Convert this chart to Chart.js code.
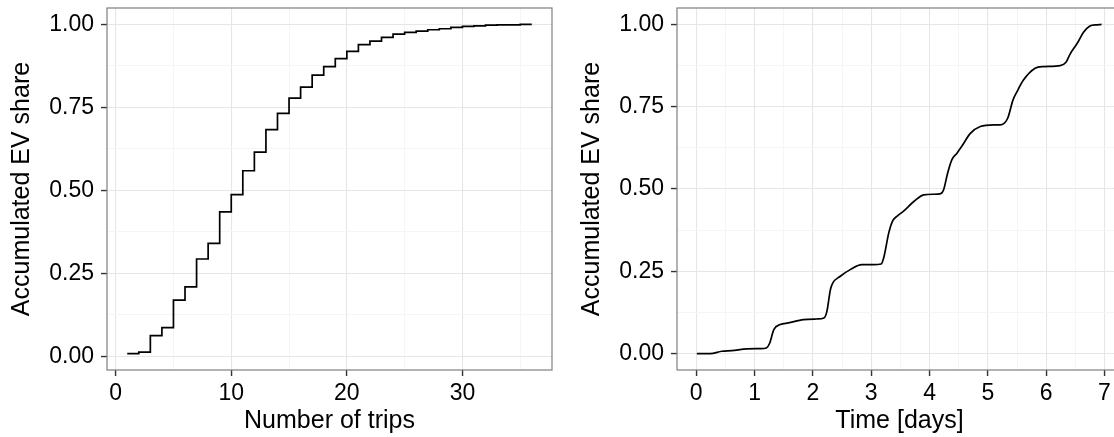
<!DOCTYPE html>
<html>
<head>
<meta charset="utf-8">
<script src="https://cdn.jsdelivr.net/npm/chart.js@4"></script>
<style>
  html, body { margin: 0; padding: 0; background: #fff; overflow: hidden; }
  #wrap { position: relative; width: 1114px; height: 437px; overflow: hidden; }
  canvas { position: absolute; top: 0; }
  #left { left: 0; }
  #right { left: 570px; }
</style>
</head>
<body>
<div id="wrap">
  <canvas id="left" width="560" height="437"></canvas>
  <canvas id="right" width="590" height="437"></canvas>
</div>
<script>
// left panel: ECDF of trips per EV
const trips = [1, 2, 3, 4, 5, 6, 7, 8, 9, 10, 11, 12, 13, 14, 15, 16, 17, 18,
  19, 20, 21, 22, 23, 24, 25, 26, 27, 28, 29, 30, 31, 32, 33, 34, 35, 36];
const tripShare = [0.008, 0.012, 0.062, 0.086, 0.169, 0.209, 0.293, 0.340, 0.435, 0.487,
  0.559, 0.615, 0.683, 0.732, 0.778, 0.811, 0.847, 0.873, 0.897, 0.919,
  0.939, 0.950, 0.961, 0.971, 0.976, 0.980, 0.984, 0.987, 0.991, 0.994,
  0.996, 0.998, 0.999, 0.999, 1.000, 1.000];

// right panel: accumulated share over the week
const days = [0.01, 0.24, 0.44, 0.61, 0.87, 1.10, 1.20, 1.26, 1.33, 1.44, 1.58, 1.84,
  2.07, 2.19, 2.24, 2.30, 2.34, 2.47, 2.64, 2.84, 3.04, 3.17, 3.22, 3.30, 3.37,
  3.44, 3.55, 3.73, 3.90, 4.07, 4.18, 4.24, 4.31, 4.38, 4.47, 4.55, 4.70, 4.87,
  5.10, 5.21, 5.34, 5.43, 5.50, 5.61, 5.81, 5.95, 6.24, 6.34, 6.41, 6.53, 6.64,
  6.75, 6.87, 6.95];
const dayShare = [0, 0, 0.007, 0.009, 0.014, 0.015, 0.017, 0.032, 0.073, 0.088, 0.093, 0.103,
  0.105, 0.108, 0.128, 0.194, 0.214, 0.235, 0.255, 0.270, 0.270, 0.272, 0.295, 0.366, 0.404,
  0.417, 0.432, 0.462, 0.482, 0.484, 0.485, 0.497, 0.548, 0.588, 0.609, 0.629, 0.669, 0.690,
  0.695, 0.695, 0.715, 0.770, 0.796, 0.831, 0.867, 0.872, 0.875, 0.885, 0.910, 0.942, 0.976,
  0.995, 0.999, 1.000];

const shareMajor = [0, 0.25, 0.5, 0.75, 1];
const shareMinor = [0.125, 0.375, 0.625, 0.875];
const tripMajor = [0, 10, 20, 30];
const tripMinor = [5, 15, 25, 35];
const dayMajor = [0, 1, 2, 3, 4, 5, 6, 7];
const dayMinor = [0.5, 1.5, 2.5, 3.5, 4.5, 5.5, 6.5];

const yTitle = "Accumulated EV share";

Chart.defaults.font.family = '"Liberation Sans", Arial, sans-serif';
Chart.defaults.color = "#000";

// full grey box around the panel, like theme_bw
const panelBorder = {
  id: "panelBorder",
  afterDatasetsDraw(chart) {
    const { ctx, chartArea: a } = chart;
    ctx.save();
    ctx.strokeStyle = "#7f7f7f";
    ctx.lineWidth = 1.2;
    ctx.strokeRect(a.left, a.top, a.right - a.left, a.bottom - a.top);
    ctx.restore();
  }
};

function axis(min, max, major, minor, fmt, title, fitSize, isX) {
  const isMajor = v => major.some(m => Math.abs(m - v) < 1e-9);
  return {
    type: "linear",
    min, max,
    afterBuildTicks: s => {
      s.ticks = major.concat(minor).sort((a, b) => a - b).map(v => ({ value: v }));
    },
    afterFit: s => {
      if (isX) s.height = fitSize; else s.width = fitSize;
      s.paddingTop = s.paddingBottom = s.paddingLeft = s.paddingRight = 0;
    },
    grid: {
      color: c => (c.tick && isMajor(c.tick.value)) ? "#e6e6e6" : "#f5f5f5",
      lineWidth: c => (c.tick && isMajor(c.tick.value)) ? 1.1 : 1,
      tickColor: c => (c.tick && isMajor(c.tick.value)) ? "#333" : "rgba(0,0,0,0)",
      tickLength: 6,
      tickWidth: 1.4
    },
    border: { display: false },
    ticks: {
      autoSkip: false,
      maxRotation: 0,
      padding: isX ? 4 : 7,
      font: { size: 23 },
      color: "#000",
      callback: v => isMajor(v) ? fmt(v) : ""
    },
    title: {
      display: true,
      text: title,
      font: { size: 25 },
      color: "#000",
      padding: isX ? { top: 0, bottom: 1 } : { top: 7, bottom: 0 }
    }
  };
}

function drawPanel(id, xs, ys, stepped, xRange, xMajor, xMinor, xTitle, yRange, pad) {
  new Chart(document.getElementById(id), {
    type: "line",
    data: {
      datasets: [{
        data: xs.map((x, i) => ({ x, y: ys[i] })),
        borderColor: "#000",
        borderWidth: 1.7,
        pointRadius: 0,
        fill: false,
        stepped: stepped,
        cubicInterpolationMode: stepped ? "default" : "monotone"
      }]
    },
    options: {
      responsive: false,
      animation: false,
      layout: { padding: pad },
      plugins: { legend: { display: false }, tooltip: { enabled: false } },
      scales: {
        x: axis(xRange[0], xRange[1], xMajor, xMinor, v => String(v), xTitle, 67, true),
        y: axis(yRange[0], yRange[1], shareMajor, shareMinor, v => v.toFixed(2), yTitle, 107, false)
      }
    },
    plugins: [panelBorder]
  });
}

drawPanel("left", trips, tripShare, true, [-0.75, 37.75], tripMajor, tripMinor,
  "Number of trips", [-0.0416, 1.0496], { left: 0, right: 8, top: 8, bottom: 0 });
drawPanel("right", days, dayShare, false, [-0.33, 7.3], dayMajor, dayMinor,
  "Time [days]", [-0.05, 1.05], { left: 0, right: 38, top: 8, bottom: 0 });
</script>
</body>
</html>
